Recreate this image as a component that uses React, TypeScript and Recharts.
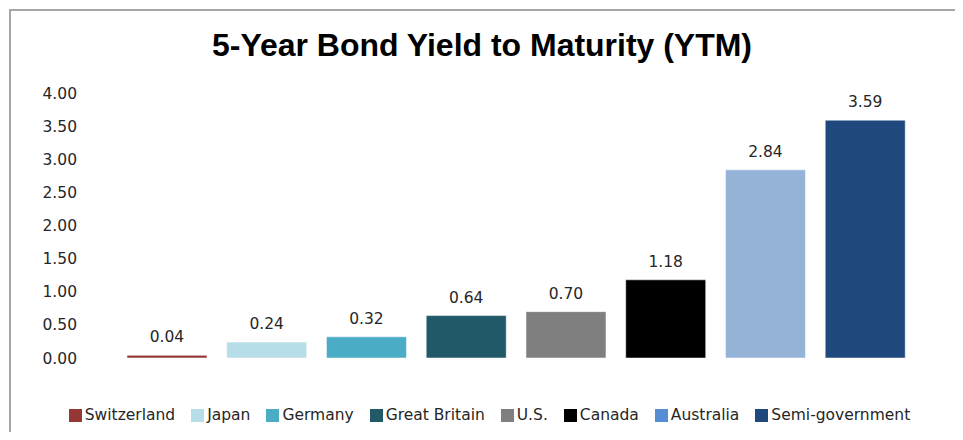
import { Bar, BarChart, Cell, LabelList, Legend, XAxis, YAxis } from 'recharts';

const countries = ['Switzerland', 'Japan', 'Germany', 'Great Britain', 'U.S.', 'Canada', 'Australia', 'Semi-government'];
const ytm = [0.04, 0.24, 0.32, 0.64, 0.7, 1.18, 2.84, 3.59];
const barColors = ['#953735', '#b7dde8', '#4bacc6', '#215968', '#7f7f7f', '#000000', '#95b3d7', '#1f497d'];
const legendColors = ['#953735', '#b7dde8', '#4bacc6', '#215968', '#7f7f7f', '#000000', '#558ed5', '#1f497d'];
const yTicks = [0, 0.5, 1, 1.5, 2, 2.5, 3, 3.5, 4];

const font = '"DejaVu Sans", Verdana, sans-serif';

function LegendBox() {
  return (
    <div
      style={{
        display: 'flex',
        justifyContent: 'center',
        alignItems: 'center',
        height: 20,
        paddingLeft: 56,
        fontFamily: font,
        fontSize: 15.5,
        color: '#262626',
        whiteSpace: 'nowrap',
      }}
    >
      {countries.map((c, i) => (
        <div key={c} style={{ display: 'flex', alignItems: 'center', marginRight: i < countries.length - 1 ? 16 : 0 }}>
          <span style={{ display: 'inline-block', width: 13, height: 13, background: legendColors[i], marginRight: 3 }} />
          <span>{c}</span>
        </div>
      ))}
    </div>
  );
}

export default function App() {
  const data = countries.map((name, i) => ({ name, value: ytm[i] }));

  return (
    <div style={{ position: 'relative', width: 947, height: 424 }}>
      <div
        style={{
          position: 'absolute',
          left: 1,
          top: 1,
          width: 944,
          height: 421,
          borderTop: '2px solid #a6a6a6',
          borderLeft: '2px solid #a6a6a6',
        }}
      />
      <svg width={947} height={70} style={{ position: 'absolute', left: 0, top: 0 }}>
        <text
          x={474}
          y={48}
          textAnchor="middle"
          textLength={540}
          lengthAdjust="spacingAndGlyphs"
          fontFamily='"Liberation Sans Narrow", "Liberation Sans", Arial, sans-serif'
          fontWeight="bold"
          fontSize={32}
          fill="#000"
        >
          5-Year Bond Yield to Maturity (YTM)
        </text>
      </svg>
      <div style={{ position: 'absolute', left: 0, top: 0 }}>
        <BarChart
          width={947}
          height={424}
          data={data}
          margin={{ top: 85, right: 40, bottom: 7, left: 0 }}
          barCategoryGap="10%"
        >
          <XAxis dataKey="name" height={47} tick={false} axisLine={false} tickLine={false} />
          <YAxis
            width={109}
            domain={[0, 4]}
            ticks={yTicks}
            tickFormatter={(v: number) => v.toFixed(2)}
            axisLine={false}
            tickLine={false}
            tickSize={0}
            tickMargin={40}
            tick={{ fontFamily: font, fontSize: 15.5, fill: '#262626' }}
          />
          <Legend verticalAlign="bottom" content={() => <LegendBox />} />
          <Bar dataKey="value" isAnimationActive={false} stroke="rgba(255,255,255,0.5)" strokeWidth={1}>
            {data.map((d, i) => (
              <Cell key={d.name} fill={barColors[i]} />
            ))}
            <LabelList
              dataKey="value"
              position="top"
              offset={13}
              formatter={(v: number) => v.toFixed(2)}
              style={{ fontFamily: font, fontSize: 15.5, fill: '#262626' }}
            />
          </Bar>
        </BarChart>
      </div>
    </div>
  );
}
